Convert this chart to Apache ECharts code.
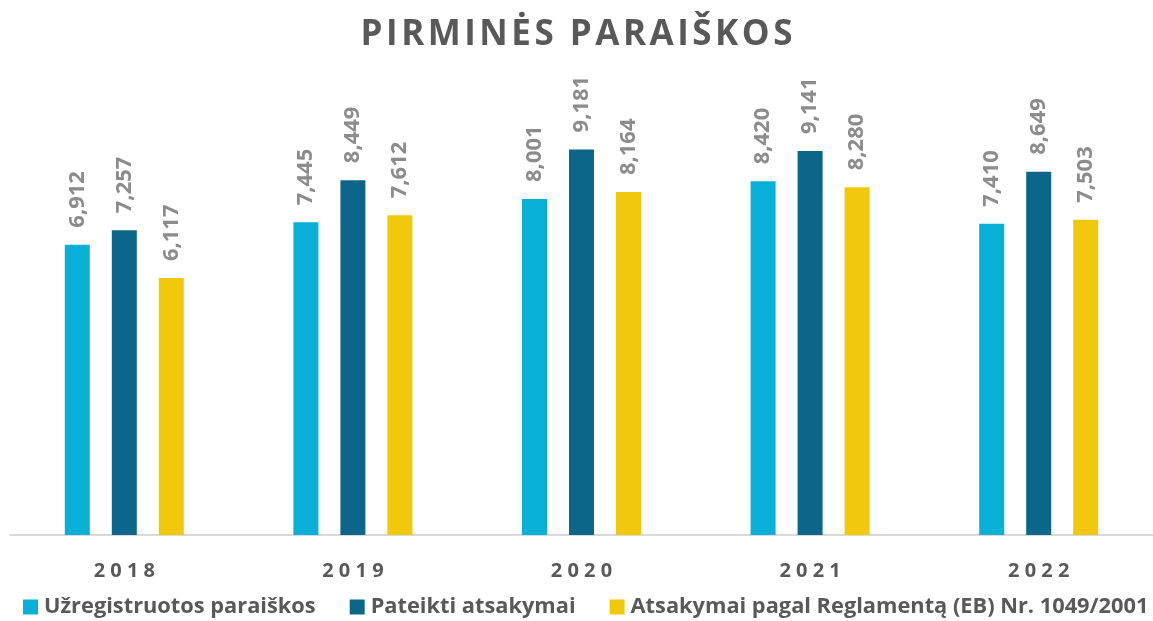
<!DOCTYPE html>
<html>
<head>
<meta charset="utf-8">
<script src="https://cdn.jsdelivr.net/npm/echarts@6/dist/echarts.min.js"></script>
<style>
  html, body { margin: 0; padding: 0; background: #fff; }
  #chart { width: 1153px; height: 621px; }
</style>
</head>
<body>
<div id="chart"></div>
<script>
// metai
const years = ["2018", "2019", "2020", "2021", "2022"];
// serijos
const registered = [6912, 7445, 8001, 8420, 7410];
const answered = [7257, 8449, 9181, 9141, 8649];
const byRegulation = [6117, 7612, 8164, 8280, 7503];

const seriesNames = [
    "Užregistruotos paraiškos",
    "Pateikti atsakymai",
    "Atsakymai pagal Reglamentą (EB) Nr. 1049/2001"
];
const colors = ["#08B0D8", "#0B6689", "#F1C80B"];

const chart = echarts.init(document.getElementById("chart"));

// bendras etikečių stilius
const labelStyle = {
    show: true,
    position: "top",
    rotate: 90,
    align: "left",
    verticalAlign: "middle",
    distance: 17,
    color: "#8C8C8C",
    fontFamily: "Open Sans",
    fontWeight: "bold",
    fontSize: 22,
    formatter: (p) => p.value.toLocaleString("en-US")
};

const makeSeries = (name, data, i) => ({
    name: name,
    type: "bar",
    data: data,
    barWidth: 25,
    barGap: "88%",
    itemStyle: { color: colors[i] },
    label: labelStyle
});

// raidžių tarpai pavadinime
const spaced = (s) => s.split("").join("\u200A");

const option = {
    animation: false,
    title: {
        text: spaced("PIRMINĖS PARAIŠKOS"),
        left: "center",
        top: 13,
        textStyle: {
            color: "#595959",
            fontFamily: "Open Sans",
            fontWeight: "bold",
            fontSize: 35
        }
    },
    color: colors,
    legend: {
        bottom: 3,
        left: 23,
        width: 1130,
        padding: 0,
        itemWidth: 15,
        itemHeight: 15,
        itemGap: 34,
        icon: "rect",
        textStyle: {
            color: "#595959",
            fontFamily: "Open Sans",
            fontWeight: "bold",
            fontSize: 21.8,
            padding: [0, 0, 0, 1]
        },
        data: seriesNames
    },
    grid: {
        left: 10,
        right: -5,
        top: 115,
        bottom: 86,
        containLabel: false
    },
    xAxis: {
        type: "category",
        data: years,
        axisLine: { lineStyle: { color: "#D9D9D9", width: 2 } },
        axisTick: { show: false },
        axisLabel: {
            margin: 26,
            color: "#595959",
            fontFamily: "Open Sans",
            fontWeight: "bold",
            fontSize: 20,
            formatter: (v) => v.split("").join(" ")
        }
    },
    yAxis: {
        type: "value",
        min: 0,
        max: 10000,
        show: false,
        splitLine: { show: false }
    },
    series: [
        makeSeries(seriesNames[0], registered, 0),
        makeSeries(seriesNames[1], answered, 1),
        makeSeries(seriesNames[2], byRegulation, 2)
    ]
};

chart.setOption(option);
</script>
</body>
</html>
